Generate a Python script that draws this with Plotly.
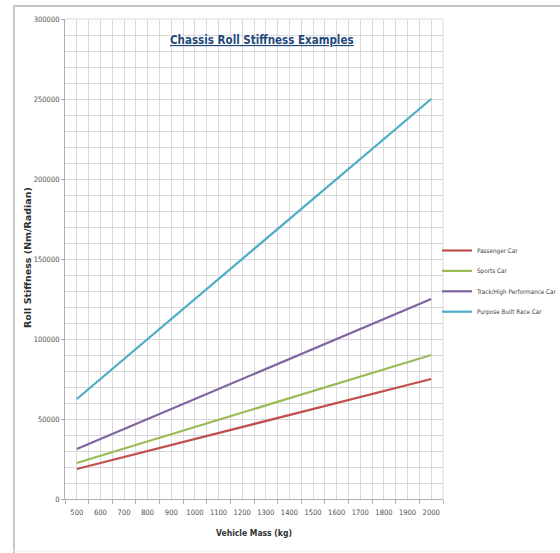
import plotly.graph_objects as go

mass = [500, 600, 700, 800, 900, 1000, 1100, 1200, 1300, 1400, 1500, 1600, 1700, 1800, 1900, 2000]
passenger = [18750, 22500, 26250, 30000, 33750, 37500, 41250, 45000, 48750, 52500, 56250, 60000, 63750, 67500, 71250, 75000]
sports = [22500, 27000, 31500, 36000, 40500, 45000, 49500, 54000, 58500, 63000, 67500, 72000, 76500, 81000, 85500, 90000]
track = [31250, 37500, 43750, 50000, 56250, 62500, 68750, 75000, 81250, 87500, 93750, 100000, 106250, 112500, 118750, 125000]
race = [62500, 75000, 87500, 100000, 112500, 125000, 137500, 150000, 162500, 175000, 187500, 200000, 212500, 225000, 237500, 250000]

series = [
    ("Passenger Car", passenger, "#C0504D"),
    ("Sports Car", sports, "#9BBB59"),
    ("Track/High Performance Car", track, "#8064A2"),
    ("Purpose Built Race Car", race, "#4BACC6"),
]

NARROW = "DejaVu Sans Condensed, Liberation Sans Narrow, sans-serif"

fig = go.Figure()
for name, vals, col in series:
    fig.add_trace(go.Scatter(x=mass, y=vals, mode="lines", name=name, legendgroup=name,
                             line=dict(color=col, width=2.2)))

grid = "#D9D9D9"
W, H = 560, 553
L, R, T, B = 65, 117, 19, 54
pw, ph = W - L - R, H - T - B

def px(x):
    return (x - L) / pw

def py(y):
    return (H - B - y) / ph

fig.update_layout(
    width=W, height=H,
    paper_bgcolor="white", plot_bgcolor="white",
    margin=dict(l=L, r=R, t=T, b=B, autoexpand=False),
    font=dict(family=NARROW, color="#404040"),
    showlegend=True,
    legend=dict(x=px(437), y=py(236), xanchor="left", yanchor="top",
                font=dict(family=NARROW, size=6.3, color="#404040"), bgcolor="rgba(0,0,0,0)",
                itemwidth=30, tracegroupgap=1.4),
    annotations=[
        dict(text="<b><u>Chassis Roll Stiffness Examples</u></b>", x=px(262), y=py(40),
             xref="paper", yref="paper", showarrow=False, yanchor="middle",
             font=dict(family=NARROW, size=11.5, color="#1F497D")),
        dict(text="<b>Roll Stiffness (Nm/Radian)</b>", x=px(27), y=py(258), textangle=-90,
             xref="paper", yref="paper", showarrow=False, xanchor="center", yanchor="middle",
             font=dict(family="DejaVu Sans, sans-serif", size=9.5, color="#303030")),
    ],
)
fig.update_xaxes(
    range=[450, 2050], tick0=500, dtick=100, tickmode="linear",
    showgrid=True, gridcolor=grid, gridwidth=1,
    minor=dict(tick0=450, dtick=100, showgrid=True, gridcolor=grid, ticks="outside", ticklen=4, tickcolor="#B0B0B0"),
    showline=True, linecolor="#B0B0B0", mirror=False, zeroline=False,
    tickfont=dict(family=NARROW, size=7.5, color="#505050"), ticks="", ticklabelstandoff=6,
    title=dict(text="<b>Vehicle Mass (kg)</b>", font=dict(family=NARROW, size=8.5, color="#303030"), standoff=14),
)
fig.update_yaxes(
    range=[0, 300000], dtick=50000, tick0=0, tickformat="d",
    showgrid=True, gridcolor=grid, gridwidth=1,
    minor=dict(dtick=10000, showgrid=True, gridcolor=grid),
    showline=True, linecolor="#B0B0B0", zeroline=False,
    tickfont=dict(family=NARROW, size=7.5, color="#505050"), ticks="outside", ticklen=3, tickcolor="#B0B0B0",
)
# plot-area right/top edges
fig.add_shape(type="line", xref="paper", yref="paper", x0=1, x1=1, y0=0, y1=1, line=dict(color=grid, width=1))
fig.add_shape(type="line", xref="paper", yref="paper", x0=0, x1=1, y0=1, y1=1, line=dict(color=grid, width=1))
# outer chart frame
fig.add_shape(type="line", xref="paper", yref="paper", x0=px(13), x1=px(560), y0=py(6), y1=py(6), line=dict(color="#C4C4C4", width=2))
fig.add_shape(type="line", xref="paper", yref="paper", x0=px(14), x1=px(14), y0=py(6), y1=py(553), line=dict(color="#C8C8C8", width=2))
fig.add_shape(type="line", xref="paper", yref="paper", x0=px(13), x1=px(560), y0=py(551), y1=py(551), line=dict(color="#EEEEEE", width=1))

fig.write_html("out.html", config={"displayModeBar": False},
               post_script="document.body.style.margin='0';document.body.style.overflow='hidden';")
